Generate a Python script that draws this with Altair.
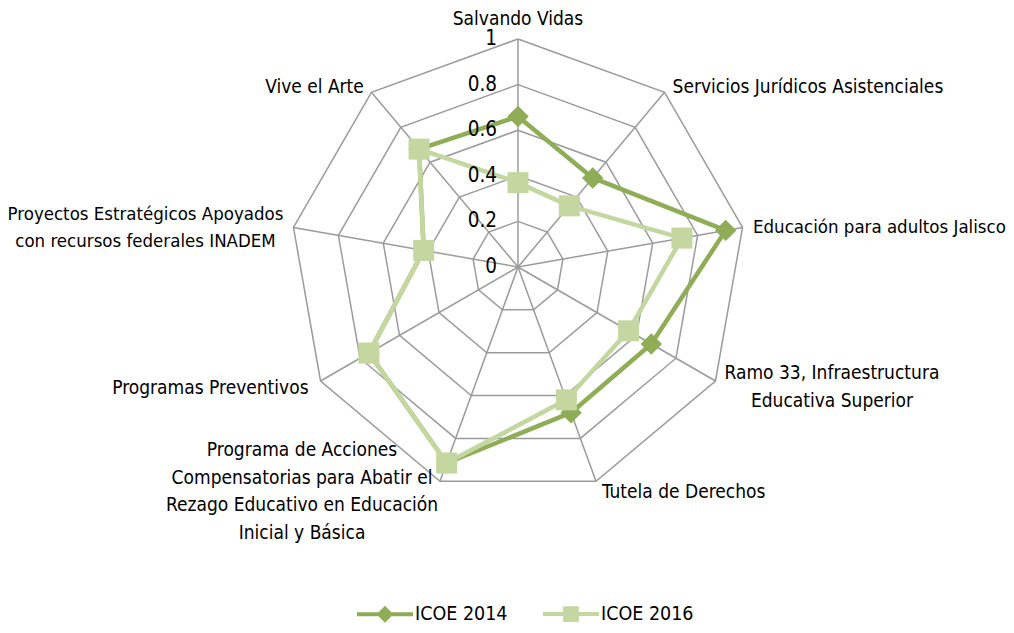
import altair as alt
import pandas as pd

# ---------------- data ----------------
categories = [
    "Salvando Vidas",
    "Servicios Jurídicos Asistenciales",
    "Educación para adultos Jalisco",
    "Ramo 33, Infraestructura Educativa Superior",
    "Tutela de Derechos",
    "Programa de Acciones Compensatorias para Abatir el Rezago Educativo en Educación Inicial y Básica",
    "Programas Preventivos",
    "Proyectos Estratégicos Apoyados con recursos federales INADEM",
    "Vive el Arte",
]
category_labels = [
    "Salvando Vidas",
    "Servicios Jurídicos Asistenciales",
    "Educación para adultos Jalisco",
    "Ramo 33, Infraestructura\nEducativa Superior",
    "Tutela de Derechos",
    "Programa de Acciones\nCompensatorias para Abatir el\nRezago Educativo en Educación\nInicial y Básica",
    "Programas Preventivos",
    "Proyectos Estratégicos Apoyados\ncon recursos federales INADEM",
    "Vive el Arte",
]
series_names = ["ICOE 2014", "ICOE 2016"]
icoe_2014 = [0.66, 0.51, 0.925, 0.675, 0.68, 0.915, 0.755, 0.42, 0.675]
icoe_2016 = [0.37, 0.35, 0.73, 0.56, 0.62, 0.915, 0.755, 0.42, 0.675]
tick_values = [0, 0.2, 0.4, 0.6, 0.8, 1]
tick_labels = ["0", "0.2", "0.4", "0.6", "0.8", "1"]

# ---------------- styles ----------------
N = len(categories)
FONT = "DejaVu Sans Condensed, Liberation Sans, sans-serif"
FS = 19
C2014 = "#8FAD57"
C2016 = "#C4D7A0"
GRID = "#9B9B9B"
W, H = 998, 617
R = 228.0
CX, CY = 510.0, 259.0
xdom = [-CX / R, (W - CX) / R]
ydom = [-(H - CY) / R, CY / R]

xs = alt.X("x:Q", scale=alt.Scale(domain=xdom, nice=False, zero=False), axis=None)
ys = alt.Y("y:Q", scale=alt.Scale(domain=ydom, nice=False, zero=False), axis=None)

ANG = f"2*PI*datum.idx/{N}"


def polar(ch):
    return ch.transform_calculate(
        x=f"datum.value*sin({ANG})", y=f"datum.value*cos({ANG})"
    )


# ---------------- tables ----------------
series_rows = []
for name, vals in zip(series_names, [icoe_2014, icoe_2016]):
    for k in range(N + 1):
        series_rows.append({"series": name, "idx": k % N, "order": k, "value": vals[k % N]})
series_df = pd.DataFrame(series_rows)

ring_rows = []
for r in tick_values[1:]:
    for k in range(N + 1):
        ring_rows.append({"ring": r, "idx": k % N, "order": k, "value": r})
ring_df = pd.DataFrame(ring_rows)

spoke_df = pd.DataFrame({"idx": list(range(N)), "value": [tick_values[-1]] * N})
label_df = pd.DataFrame({"idx": list(range(N)), "value": [tick_values[-1]] * N,
                         "label": category_labels})
tick_df = pd.DataFrame({"value": tick_values, "label": tick_labels})

# ---------------- layers ----------------
rings = polar(alt.Chart(ring_df)).mark_line(color=GRID, strokeWidth=1.5).encode(
    x=xs, y=ys, detail="ring:N", order="order:Q"
)

spokes = polar(alt.Chart(spoke_df)).transform_calculate(x0="0", y0="0").mark_rule(
    color=GRID, strokeWidth=1.5
).encode(x=alt.X("x0:Q", scale=alt.Scale(domain=xdom, nice=False, zero=False), axis=None),
         y=alt.Y("y0:Q", scale=alt.Scale(domain=ydom, nice=False, zero=False), axis=None),
         x2="x:Q", y2="y:Q")


def series_layers(name, color, shape, size):
    base = polar(alt.Chart(series_df)).transform_filter(alt.datum.series == name)
    line = base.mark_line(color=color, strokeWidth=4.5, strokeJoin="round").encode(
        x=xs, y=ys, order="order:Q"
    )
    pts = base.transform_filter(alt.datum.order < N).mark_point(
        filled=True, shape=shape, size=size, color=color, opacity=1
    ).encode(x=xs, y=ys)
    return [line, pts]


s2014 = series_layers("ICOE 2014", C2014, "diamond", 460)
s2016 = series_layers("ICOE 2016", C2016, "square", 441)

ticks = alt.Chart(tick_df).transform_calculate(x="0", y="datum.value").mark_text(
    align="right", baseline="middle", dx=-21, font=FONT, fontSize=20.5, color="#000000"
).encode(x=xs, y=ys, text="label:N")

# (align, dx, dy, font size)
label_styles = [
    ("center", 0, -19.8, FS),
    ("left", 8, -5.6, FS),
    ("left", 10.5, 0, 18.5),
    ("center", 116.5, -7.7, FS),
    ("left", 6, 10.7, FS),
    ("center", -138, -31, FS),
    ("right", -12, 7.3, FS),
    ("center", -148, -13.5, 18.5),
    ("right", -7.6, -5.3, FS),
]
label_layers = []
for i, (al, dx, dy, fs) in enumerate(label_styles):
    label_layers.append(
        polar(alt.Chart(label_df)).transform_filter(alt.datum.idx == i).mark_text(
            align=al, baseline="middle", dx=dx, dy=dy, font=FONT, fontSize=fs,
            lineHeight=27.5, lineBreak="\n", color="#000000"
        ).encode(x=xs, y=ys, text="label:N")
    )

# legend (built from the series table; marks invisible, legend drawn)
leg = alt.Legend(
    title=None, orient="none", legendX=347, legendY=576, direction="horizontal",
    symbolSize=3136, symbolStrokeWidth=4, symbolOpacity=1, labelFont=FONT,
    labelFontSize=19.5, labelColor="#000000", labelOffset=0, columnPadding=27,
    padding=0, offset=0,
)
paths = [
    "M-1,0L1,0M0,-0.2L0.2,0L0,0.2L-0.2,0Z",
    "M-1,0L1,0M-0.21,-0.21L0.21,-0.21L0.21,0.21L-0.21,0.21Z",
]
legend_layer = polar(alt.Chart(series_df)).mark_point(filled=True, opacity=0).encode(
    x=xs, y=ys,
    fill=alt.Fill("series:N", scale=alt.Scale(domain=series_names, range=[C2014, C2016]), legend=leg),
    stroke=alt.Stroke("series:N", scale=alt.Scale(domain=series_names, range=[C2014, C2016]), legend=leg),
    shape=alt.Shape("series:N", scale=alt.Scale(domain=series_names, range=paths), legend=leg),
)

chart = alt.layer(
    rings, spokes, *s2014, *s2016, ticks, *label_layers, legend_layer
).properties(
    width=W, height=H, autosize=alt.AutoSizeParams(type="none"), padding=0,
    background="white",
).configure_view(stroke=None)

chart.save("out.html", embed_options={"renderer": "svg", "actions": False})
